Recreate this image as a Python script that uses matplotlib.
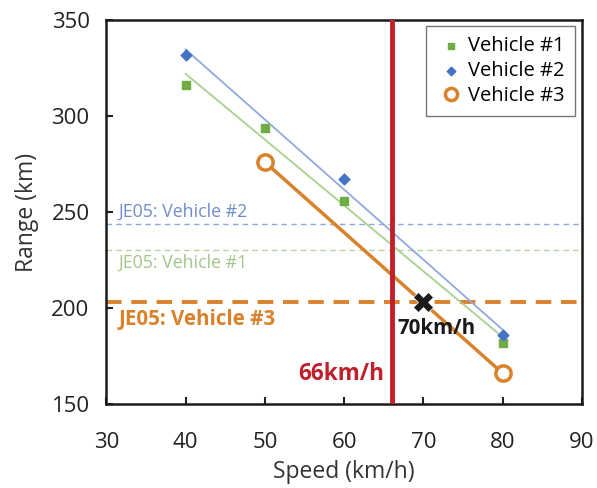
import numpy as np
import matplotlib
matplotlib.use("Agg")
import matplotlib.pyplot as plt

plt.rcParams['font.family'] = ['Open Sans', 'DejaVu Sans']

# Data
v1_speed = [40, 50, 60, 80]
v1_range = [316, 294, 256, 182]
v2_speed = [40, 60, 80]
v2_range = [332, 267, 186]
v3_speed = [50, 80]
v3_range = [276, 166]
je05_v1 = 230
je05_v2 = 244
je05_v3 = 203
limit_speed = 66
cross_point = (70, 203)

green = '#70AD47'
blue = '#4472C4'
orange = '#D9822B'
red = '#C0202B'

fig = plt.figure(figsize=(5.97, 4.88), dpi=100)
ax = fig.add_axes([0.178, 0.172, 0.797, 0.787])

ax.set_xlim(30, 90)
ax.set_ylim(150, 350)

# reference lines
ax.axhline(je05_v2, color='#8FA8DC', lw=1.0, ls=(0, (4, 3)), zorder=1)
ax.axhline(je05_v1, color='#B5D3A0', lw=1.0, ls=(0, (4, 3)), zorder=1)
ax.axhline(je05_v3, color=orange, lw=2.8, ls=(0, (4, 2.5)), zorder=1)

# trendlines
xs = np.array([40, 80])
p1 = np.polyfit(v1_speed, v1_range, 1)
p2 = np.polyfit(v2_speed, v2_range, 1)
ax.plot(xs, np.polyval(p1, xs), color='#A9D18E', lw=1.3, zorder=2)
ax.plot(xs, np.polyval(p2, xs), color='#8FAADC', lw=1.3, zorder=2)

ax.plot(v3_speed, v3_range, color=orange, lw=2.5, zorder=3)

ax.scatter(v1_speed, v1_range, marker='s', s=30, color=green, zorder=4, label='Vehicle #1')
ax.scatter(v2_speed, v2_range, marker='D', s=30, color=blue, zorder=4, label='Vehicle #2')
ax.plot(v3_speed, v3_range, ls='none', marker='o', ms=11, mfc='white', mec=orange, mew=2.5,
        zorder=5, label='Vehicle #3')

ax.axvline(limit_speed, color=red, lw=3.5, zorder=3)

ax.plot([cross_point[0]], [cross_point[1]], marker='X', ms=15, color='#1a1a1a', mec='white', mew=0.5, zorder=6)

ax.text(31.5, 250, 'JE05: Vehicle #2', color='#6F8CCB', fontsize=12.8, va='center', ha='left')
ax.text(31.5, 223.5, 'JE05: Vehicle #1', color='#A3C58A', fontsize=12.8, va='center', ha='left')
ax.text(31.5, 194, 'JE05: Vehicle #3', color=orange, fontsize=14.8, fontweight='bold', va='center', ha='left')
ax.text(65.1, 165.5, '66km/h', color=red, fontsize=16.3, fontweight='bold', va='center', ha='right')
ax.text(71.6, 189.5, '70km/h', color='#1a1a1a', fontsize=14.8, fontweight='bold', va='center', ha='center')

ax.set_xticks([30, 40, 50, 60, 70, 80, 90])
ax.set_yticks([150, 200, 250, 300, 350])
ax.tick_params(direction='in', length=5, width=1.5, labelsize=16, colors='#222222')
ax.tick_params(axis='x', pad=20)
ax.tick_params(axis='y', pad=12)
for s in ax.spines.values():
    s.set_linewidth(1.8)
    s.set_color('#1a1a1a')

ax.set_xlabel('Speed (km/h)', fontsize=16.5, color='#333333', labelpad=5)
ax.set_ylabel('Range (km)', fontsize=16.5, color='#333333', labelpad=9)

leg = ax.legend(loc='upper right', bbox_to_anchor=(0.985, 0.984), fontsize=14.5, frameon=True,
                fancybox=False, edgecolor='#555555', handletextpad=0.1, handlelength=1.5,
                borderpad=0.5, labelspacing=0.25, markerscale=0.8, borderaxespad=0)
leg.get_frame().set_linewidth(1.0)
leg._legend_box.align = 'left'
for t in leg.get_texts():
    pass

fig.savefig('out.png', dpi=100)
